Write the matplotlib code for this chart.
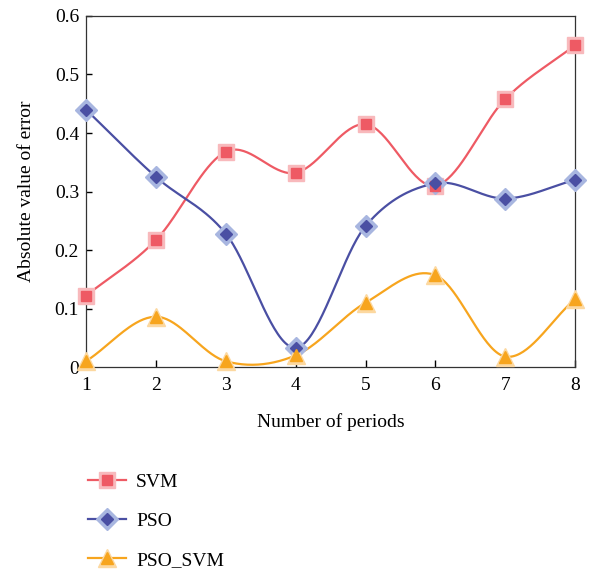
import numpy as np
import matplotlib.pyplot as plt
from matplotlib.lines import Line2D
from matplotlib.legend_handler import HandlerTuple

plt.rcParams['font.family'] = ['Liberation Serif', 'DejaVu Serif']

periods = [1, 2, 3, 4, 5, 6, 7, 8]
svm = [0.122, 0.217, 0.368, 0.332, 0.415, 0.310, 0.458, 0.550]
pso = [0.440, 0.325, 0.228, 0.033, 0.241, 0.314, 0.288, 0.320]
pso_svm = [0.010, 0.086, 0.010, 0.020, 0.110, 0.157, 0.018, 0.116]


def smooth(x, y, n=40):
    # catmull-rom style curve through the points
    x = np.asarray(x, float)
    y = np.asarray(y, float)
    k = len(x)
    m = np.zeros(k)
    m[1:-1] = (y[2:] - y[:-2]) / (x[2:] - x[:-2])
    m[0] = y[1] - y[0]
    m[-1] = y[-1] - y[-2]
    xs, ys = [], []
    for i in range(k - 1):
        h = x[i + 1] - x[i]
        t = np.linspace(0, 1, n)
        h00 = 2 * t**3 - 3 * t**2 + 1
        h10 = t**3 - 2 * t**2 + t
        h01 = -2 * t**3 + 3 * t**2
        h11 = t**3 - t**2
        xs.extend(x[i] + t * h)
        ys.extend(h00 * y[i] + h10 * h * m[i] + h01 * y[i + 1] + h11 * h * m[i + 1])
    return np.array(xs), np.array(ys)


fig = plt.figure(figsize=(5.94, 5.70), dpi=100)
ax = fig.add_axes([0.1448, 0.356, 0.8235, 0.616])

series = [
    ('SVM', svm, '#EE5A64', '#F8B9BC', 's', 7, 11.5),
    ('PSO', pso, '#4A4FA3', '#A8B6E0', 'D', 6.5, 11),
    ('PSO_SVM', pso_svm, '#F7A51E', '#FCD8A0', '^', 8, 13),
]

handles = []
for name, vals, col, halo, mk, ms, hs in series:
    xs, ys = smooth(periods, vals)
    ax.plot(xs, ys, color=col, lw=1.6, zorder=2, clip_on=False)
    ax.plot(periods, vals, ls='none', marker=mk, ms=hs, color=halo,
            mec=halo, zorder=3, clip_on=False)
    ax.plot(periods, vals, ls='none', marker=mk, ms=ms, color=col,
            mec=col, zorder=4, clip_on=False)
    h1 = Line2D([], [], color=col, lw=1.6, marker=mk, ms=hs, mfc=halo, mec=halo)
    h2 = Line2D([], [], ls='none', marker=mk, ms=ms, color=col, mec=col)
    handles.append(((h1, h2), name))

ax.set_xlim(1, 8)
ax.set_ylim(0, 0.6)
ax.set_xticks(periods)
ax.set_yticks([0, 0.1, 0.2, 0.3, 0.4, 0.5, 0.6])
ax.set_yticklabels(['0', '0.1', '0.2', '0.3', '0.4', '0.5', '0.6'])
ax.tick_params(axis='x', direction='in', length=5, width=1, labelsize=14, pad=7)
ax.tick_params(axis='y', direction='in', length=4, width=1, labelsize=14, pad=5)
for s in ax.spines.values():
    s.set_linewidth(0.9)
    s.set_color('#333333')

ax.set_xlabel('Number of periods', fontsize=14, labelpad=14)
ax.set_ylabel('Absolute value of error', fontsize=14, labelpad=14)

fig.legend([h for h, _ in handles], [n for _, n in handles],
           handler_map={tuple: HandlerTuple(ndivide=1)},
           loc='upper left', bbox_to_anchor=(0.118, 0.2), frameon=False,
           fontsize=14, handlelength=1.95, labelspacing=1.1, handletextpad=0.55)

fig.savefig('out.png', dpi=100)
